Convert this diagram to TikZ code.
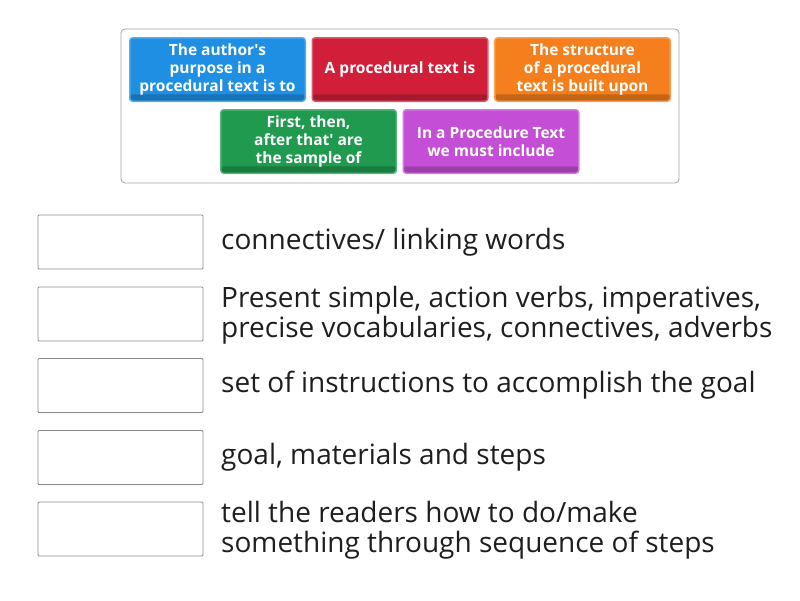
\documentclass[tikz,border=0pt]{standalone}
\usepackage{fontspec}
\setmainfont{Open Sans}
\usepackage{tikz}
\usetikzlibrary{positioning}
\definecolor{tileblue}{HTML}{1E8FE3}
\definecolor{tilered}{HTML}{D11F3A}
\definecolor{tileorange}{HTML}{F57F1C}
\definecolor{tilegreen}{HTML}{1F9A4E}
\definecolor{tilepurple}{HTML}{C44FD6}
\definecolor{slotgray}{HTML}{8A8A8A}
\definecolor{answertext}{HTML}{1E1E1E}

\begin{document}
\begin{tikzpicture}[x=1pt, y=-1pt,
    tile/.style={minimum width=175.5pt, minimum height=63.5pt, inner sep=0pt,
        rounded corners=3pt, fill=#1, draw=#1!75!white, line width=1.5pt,
        text=white, align=center, font=\fontsize{15.5}{18}\selectfont\bfseries,
        path picture={\fill[#1!80!black] ([yshift=7pt]path picture bounding box.south west) rectangle (path picture bounding box.south east);}},
    slot/.style={draw=slotgray, line width=0.8pt, rounded corners=1pt, minimum width=165pt, minimum height=54pt, inner sep=0pt},
    answer/.style={anchor=west, align=left, text=answertext, font=\fontsize{28}{30}\selectfont, inner sep=0pt}]
    \useasboundingbox (0, 0) rectangle (800, 600);
    % tile frame
    \draw [slotgray!80, line width=0.8pt, rounded corners=4pt] (121, 29) rectangle (679, 183);
    \node [tile=tileblue] (author) at (217.5, 69.5) {The author\textquotesingle s\\purpose in a\\procedural text is to};
    \node [tile=tilered, right=5.5pt of author] (procedural) {A procedural text is};
    \node [tile=tileorange, right=5.5pt of procedural] (structure) {The structure\\of a procedural\\text is built upon};
    \node [tile=tilegreen] (first) at (308.5, 141.5) {First, then,\\after that\textquotesingle{} are\\the sample of};
    \node [tile=tilepurple, right=5.5pt of first] (include) {In a Procedure Text\\we must include};
    % answer slots
    \node [slot] (slota) at (120.5, 242) {};
    \node [slot] (slotb) at (120.5, 314) {};
    \node [slot] (slotc) at (120.5, 385.5) {};
    \node [slot] (slotd) at (120.5, 457.5) {};
    \node [slot] (slote) at (120.5, 529) {};
    \node [answer] (texta) at (221, 242) {connectives/ linking words};
    \node [answer] (textb) at (221, 315.5) {Present simple, action verbs, imperatives,\\precise vocabularies, connectives, adverbs};
    \node [answer] (textc) at (221, 385.5) {set of instructions to accomplish the goal};
    \node [answer] (textd) at (221, 457.5) {goal, materials and steps};
    \node [answer] (texte) at (221, 530.5) {tell the readers how to do/make\\something through sequence of steps};
\end{tikzpicture}
\end{document}
